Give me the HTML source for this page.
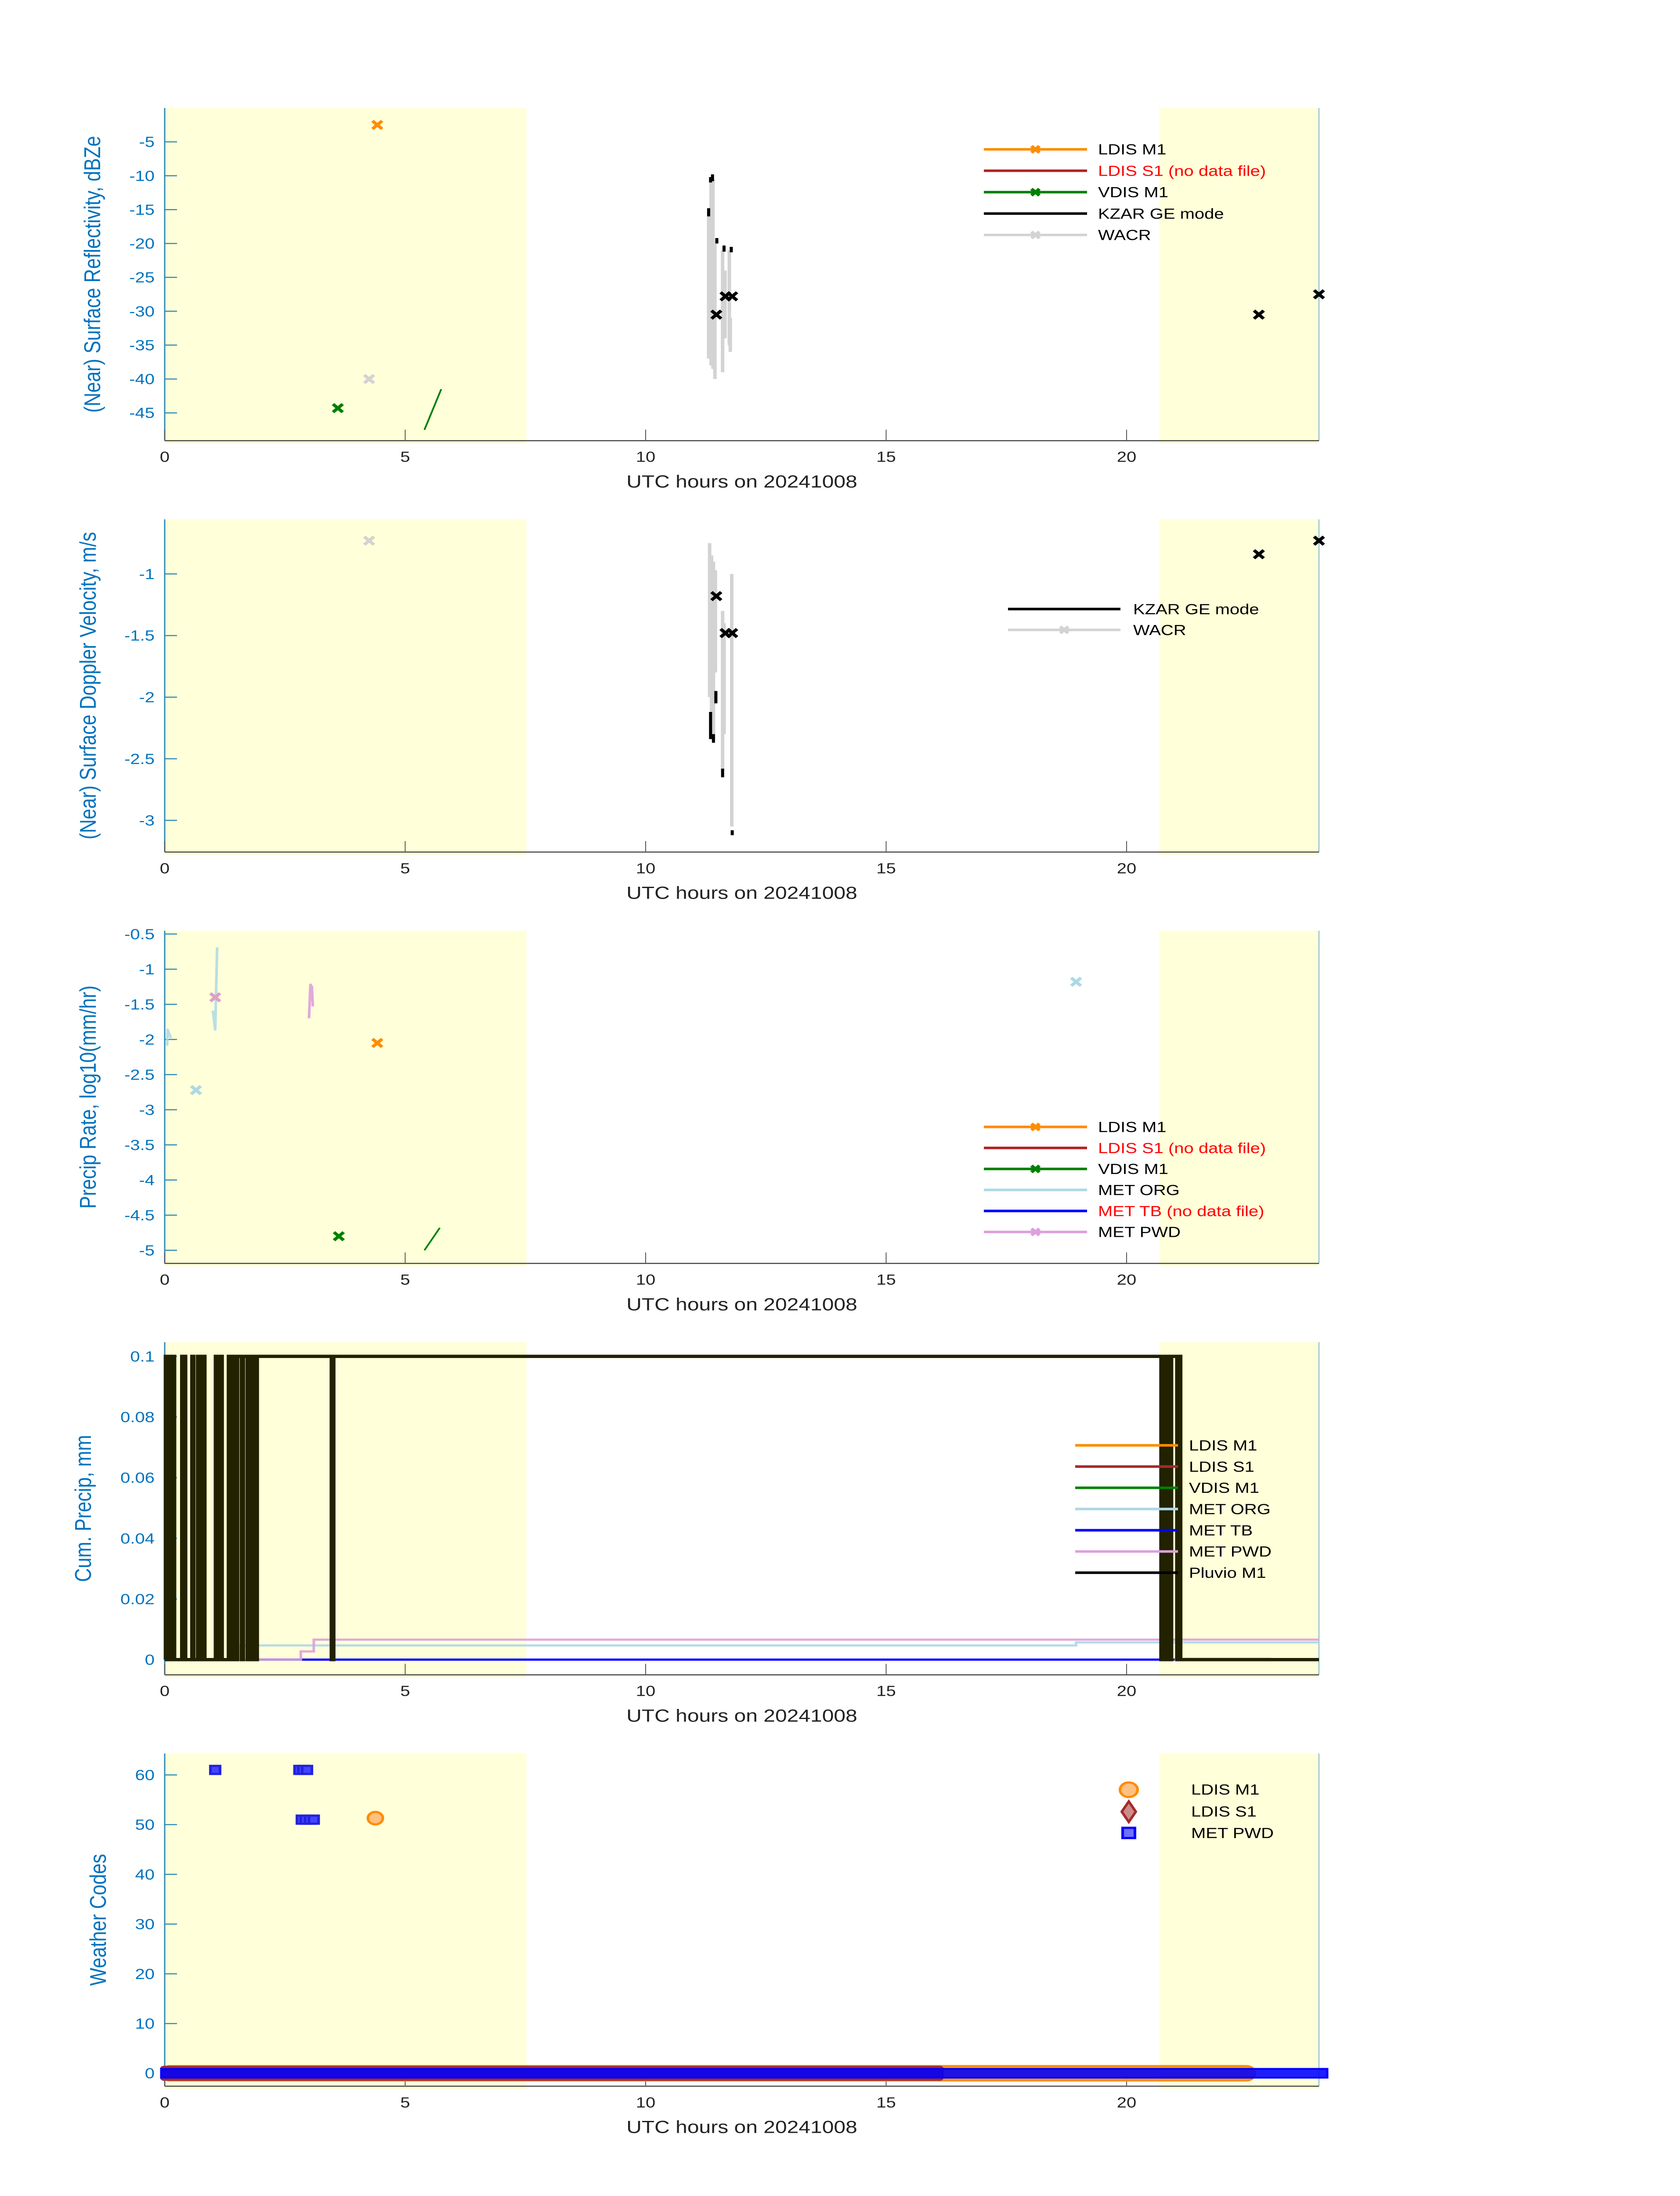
<!DOCTYPE html>
<html><head><meta charset="utf-8"><style>
html,body{margin:0;padding:0;background:#fff;width:100%;height:100%;overflow:hidden}
svg{display:block;font-family:"Liberation Sans",sans-serif;width:100vw;height:100vh}
</style></head><body>
<svg id="fig" viewBox="0 0 3825 6000" preserveAspectRatio="none" xmlns="http://www.w3.org/2000/svg"></svg>
<script>
// ---------- data ----------
const xTicks=[0,5,10,15,20];
const nightStart=[0,20.68], nightEnd=[7.52,24];
// panel 1 reflectivity
const p1Ticks=[-45,-40,-35,-30,-25,-20,-15,-10,-5];
const ldisM1ZT=[4.42], ldisM1ZV=[-2.5];
const vdisZT=[3.6], vdisZV=[-44.3];
const vdisLineT=[5.4,5.75], vdisLineV=[-47.5,-41.5];
const wacrZT=[4.25], wacrZV=[-40];
const wacrSegT=[11.31,11.36,11.4,11.44,11.6,11.65,11.74,11.76];
const wacrSegTop=[-15,-11,-10.5,-20,-21,-24,-21,-31];
const wacrSegBot=[-37,-38,-38.5,-40,-39,-34,-35,-36];
const kzarZT=[22.75,24.0,11.47,11.66,11.8], kzarZV=[-30.5,-27.5,-30.5,-27.8,-27.8];
const kzarSegT=[11.35,11.39,11.31,11.48,11.63,11.78], kzarSegTop=[-10.2,-9.8,-14.8,-19.2,-20.3,-20.5], kzarSegBot=[-11,-10.8,-16,-20,-21.2,-21.3];
// panel 2 velocity
const p2Ticks=[-3,-2.5,-2,-1.5,-1];
const wacrVT=[4.25], wacrVV=[-0.73];
const kzarVT=[22.75,24.0,11.47,11.66,11.8], kzarVV=[-0.84,-0.73,-1.18,-1.48,-1.48];
const wacrVSegT=[11.33,11.37,11.41,11.45,11.6,11.63,11.79], wacrVSegTop=[-0.75,-0.85,-0.9,-0.97,-1.3,-1.4,-1.0];
const wacrVSegBot=[-2.0,-2.3,-2.35,-1.8,-2.6,-2.3,-3.05];
const kzarVSegT=[11.35,11.41,11.46,11.6,11.8], kzarVSegTop=[-2.12,-2.3,-1.95,-2.58,-3.08], kzarVSegBot=[-2.34,-2.37,-2.05,-2.65,-3.12];
// panel 3 precip rate
const p3Ticks=[-5,-4.5,-4,-3.5,-3,-2.5,-2,-1.5,-1,-0.5];
const ldisRT=[4.42], ldisRV=[-2.05];
const vdisRT=[3.62], vdisRV=[-4.8];
const vdisRLineT=[5.4,5.72], vdisRLineV=[-5.0,-4.68];
const orgRT=[18.95,0.65], orgRV=[-1.18,-2.72];
const orgLineT=[1.09,1.05,1.0], orgLineV=[-0.69,-1.86,-1.59];
const orgLine2T=[0.05,0.06,0.13], orgLine2V=[-2.09,-1.86,-1.98];
const pwdRT=[1.05], pwdRV=[-1.4];
const pwdLineT=[3.0,3.03,3.06,3.08], pwdLineV=[-1.70,-1.22,-1.25,-1.53];
// panel 4 cumulative precip
const p4Ticks=[0,0.02,0.04,0.06,0.08,0.1];
const p4TickLabels=["0","0.02","0.04","0.06","0.08","0.1"];
const orgCT=[0,1.55,1.56,18.9,18.95,24], orgCV=[0,0,0.0047,0.0047,0.0057,0.0057];
const pwdCT=[0,2.78,2.83,3.0,3.1,24], pwdCV=[0,0,0.0027,0.0027,0.0066,0.0066];
const tbCT=[0,21], tbCV=[0,0];
const ldisCT=[21,23], ldisCV=[0.0003,0.0003];
const pluvioT=[0,0.02,0.04,0.06,0.1,0.17,0.2,0.36,0.38,0.4,0.43,0.57,0.6,0.69,0.72,0.8,0.83,1.06,1.09,1.11,1.14,1.16,1.19,1.33,1.36,1.4,1.43,1.46,1.49,1.51,1.6,1.63,1.72,1.75,1.8,1.83,1.88,1.92,3.47,3.51,20.72,20.75,20.78,20.8,20.84,20.87,20.9,20.93,21.05,21.08,21.12,24];
const pluvioV=[0,0.1,0,0.1,0,0.1,0,0.1,0,0.1,0,0.1,0,0.1,0,0.1,0,0.1,0,0.1,0,0.1,0,0.1,0,0.1,0,0.1,0,0.1,0,0.1,0,0.1,0,0.1,0,0.1,0,0.1,0,0.1,0,0.1,0,0.1,0,0.1,0,0.1,0,0];
// panel 5 weather codes
const p5Ticks=[0,10,20,30,40,50,60];
const ldisWRunStart=[0], ldisWRunEnd=[22.6], ldisWRunCode=[0];
const ldisS1RunStart=[0], ldisS1RunEnd=[16.1], ldisS1RunCode=[0];
const pwdRunStart=[0], pwdRunEnd=[24.1], pwdRunCode=[0];
const pwdWT=[1.05,2.8,2.88,2.96,2.85,2.93,3.02,3.1], pwdWV=[61,61,61,61,51,51,51,51];
const ldisWT=[4.38], ldisWV=[51.3];

// ---------- drawing ----------
const NS="http://www.w3.org/2000/svg";
const svg=document.getElementById('fig');
const X0=375,X1=3003,H=909;
const sx=h=>X0+h/24*(X1-X0);
function mk(tag,attrs,parent){const e=document.createElementNS(NS,tag);for(const k in attrs)e.setAttribute(k,attrs[k]);(parent||svg).appendChild(e);return e;}
function txt(s,x,y,attrs,parent){const e=mk('text',Object.assign({x:x,y:y,'font-size':40},attrs),parent);e.textContent=s;return e;}

function panel(idx,top,dom,ticks,tickLabels,ylabel,ylx){
  const g=mk('g',{});
  
  
  const bot=top+H;
  const sy=v=>bot-(v-dom[0])/(dom[1]-dom[0])*H;
  for(let i=0;i<nightStart.length;i++){
    const r=mk('rect',{x:sx(nightStart[i]),y:top,width:sx(nightEnd[i])-sx(nightStart[i]),height:H+8,fill:'#ffffd9'},g);
    
    
  }
  const ax=mk('g',{},g);
  
  
  mk('line',{x1:X0,y1:top,x2:X0,y2:bot,stroke:'#2e8bb8','stroke-width':3},ax);
  mk('line',{x1:X1,y1:top,x2:X1,y2:bot,stroke:'#7fb8d4','stroke-width':2},ax);
  mk('line',{x1:X0,y1:bot,x2:X1,y2:bot,stroke:'#444','stroke-width':3},ax);
  const xt=mk('g',{},g);
  
  
  xTicks.forEach(t=>{
    mk('line',{x1:sx(t),y1:bot,x2:sx(t),y2:bot-30,stroke:'#555','stroke-width':2},xt);
    txt(String(t),sx(t),bot+58,{'text-anchor':'middle',fill:'#222'},xt);
  });
  const yt=mk('g',{},g);
  
  
  ticks.forEach((t,i)=>{
    mk('line',{x1:X0,y1:sy(t),x2:X0+28,y2:sy(t),stroke:'#2e8bb8','stroke-width':3},yt);
    txt(tickLabels?tickLabels[i]:String(t),352,sy(t)+14,{'text-anchor':'end',fill:'#0072bd'},yt);
  });
  const xl=txt('UTC hours on 20241008',1689,bot+128,{'text-anchor':'middle','font-size':48,fill:'#222'},g);
  
  
  const yc=top+H/2;
  const yl=txt(ylabel,ylx,yc,{'text-anchor':'middle','font-size':52,fill:'#0072bd',transform:`rotate(-90 ${ylx} ${yc})`},g);
  
  
  return {g,sy,bot};
}
function cross(g,x,y,col,s){s=s||11;
  const p=mk('path',{d:`M${x-s} ${y-s}L${x+s} ${y+s}M${x-s} ${y+s}L${x+s} ${y-s}`,stroke:col,'stroke-width':8,fill:'none'},g);
  
  
}
function line(g,P,T,V,col,w,op,name){
  const d=T.map((t,i)=>(i?'L':'M')+sx(t)+' '+P.sy(V[i])).join('');
  const p=mk('path',{d:d,stroke:col,'stroke-width':w,fill:'none','stroke-opacity':op||1,'stroke-linejoin':'round'},g);
  
  
}
function stepLine(g,P,T,V,col,w,op,name){
  let d='M'+sx(T[0])+' '+P.sy(V[0]);
  for(let i=1;i<T.length;i++){d+='L'+sx(T[i])+' '+P.sy(V[i-1])+'L'+sx(T[i])+' '+P.sy(V[i]);}
  const p=mk('path',{d:d,stroke:col,'stroke-width':w,fill:'none','stroke-opacity':op||1},g);
  
  
}
function segs(g,P,T,A,B,col,w,name){
  T.forEach((t,i)=>{const l=mk('line',{x1:sx(t),y1:P.sy(A[i]),x2:sx(t),y2:P.sy(B[i]),stroke:col,'stroke-width':w},g);
    
    });
}
function legend(g,x1,x2,tx,y0,dy,items,fs){
  const lg=mk('g',{},g);
  
  
  items.forEach((it,i)=>{const y=y0+dy*i;
    const e=mk('g',{},lg);
    
    
    mk('line',{x1:x1,y1:y,x2:x2,y2:y,stroke:it[1],'stroke-width':7},e);
    if(it[2])cross(e,(x1+x2)/2,y,it[1],9);
    txt(it[0],tx,y+14,{fill:it[3]||'#000','font-size':fs||40},e);
  });
}
const tops=[295,1419,2543,3667,4791];
// Panel 1
let P=panel(1,tops[0],[-49.1,0],p1Ticks,null,'(Near) Surface Reflectivity, dBZe',228);
segs(P.g,P,wacrSegT,wacrSegTop,wacrSegBot,'#d3d3d3',8,'wacr-trace');
segs(P.g,P,kzarSegT,kzarSegTop,kzarSegBot,'#000',7,'kzar-trace');
line(P.g,P,vdisLineT,vdisLineV,'#008000',4,1,'vdis-line');
ldisM1ZT.forEach((t,i)=>cross(P.g,sx(t),P.sy(ldisM1ZV[i]),'#ff8c00'));
vdisZT.forEach((t,i)=>cross(P.g,sx(t),P.sy(vdisZV[i]),'#008000'));
wacrZT.forEach((t,i)=>cross(P.g,sx(t),P.sy(wacrZV[i]),'#d3d3d3'));
kzarZT.forEach((t,i)=>cross(P.g,sx(t),P.sy(kzarZV[i]),'#000'));
legend(P.g,2240,2475,2500,408,58.5,[['LDIS M1','#ff8c00',1],['LDIS S1 (no data file)','#b22222',0,'#ff0000'],['VDIS M1','#008000',1],['KZAR GE mode','#000',0],['WACR','#d3d3d3',1]]);
// Panel 2
P=panel(2,tops[1],[-3.257,-0.557],p2Ticks,null,'(Near) Surface Doppler Velocity, m/s',218);
segs(P.g,P,wacrVSegT,wacrVSegTop,wacrVSegBot,'#d3d3d3',8,'wacr-trace');
segs(P.g,P,kzarVSegT,kzarVSegTop,kzarVSegBot,'#000',7,'kzar-trace');
wacrVT.forEach((t,i)=>cross(P.g,sx(t),P.sy(wacrVV[i]),'#d3d3d3'));
kzarVT.forEach((t,i)=>cross(P.g,sx(t),P.sy(kzarVV[i]),'#000'));
legend(P.g,2295,2551,2580,1664,57,[['KZAR GE mode','#000',0],['WACR','#d3d3d3',1]]);
// Panel 3
P=panel(3,tops[2],[-5.187,-0.453],p3Ticks,null,'Precip Rate, log10(mm/hr)',218);
line(P.g,P,orgLineT,orgLineV,'#add8e6',6,0.85,'met-org-line');
line(P.g,P,orgLine2T,orgLine2V,'#add8e6',6,0.85,'met-org-line');
line(P.g,P,pwdLineT,pwdLineV,'#dda0dd',6,0.9,'met-pwd-line');
line(P.g,P,vdisRLineT,vdisRLineV,'#008000',4,1,'vdis-line');
ldisRT.forEach((t,i)=>cross(P.g,sx(t),P.sy(ldisRV[i]),'#ff8c00'));
vdisRT.forEach((t,i)=>cross(P.g,sx(t),P.sy(vdisRV[i]),'#008000'));
orgRT.forEach((t,i)=>cross(P.g,sx(t),P.sy(orgRV[i]),'#add8e6'));
pwdRT.forEach((t,i)=>cross(P.g,sx(t),P.sy(pwdRV[i]),'#dda0c8'));
legend(P.g,2240,2475,2500,3079,57.4,[['LDIS M1','#ff8c00',1],['LDIS S1 (no data file)','#b22222',0,'#ff0000'],['VDIS M1','#008000',1],['MET ORG','#add8e6',0],['MET TB (no data file)','#0000ff',0,'#ff0000'],['MET PWD','#dda0dd',1]]);
// Panel 4
P=panel(4,tops[3],[-0.005,0.1047],p4Ticks,p4TickLabels,'Cum. Precip, mm',207);
stepLine(P.g,P,tbCT,tbCV,'#0000ff',6,1,'met-tb-line');
stepLine(P.g,P,ldisCT,ldisCV,'#ff8c00',5,1,'ldis-m1-line');
stepLine(P.g,P,orgCT,orgCV,'#add8e6',6,0.9,'met-org-line');
stepLine(P.g,P,pwdCT,pwdCV,'#dda0dd',6,0.9,'met-pwd-line');
stepLine(P.g,P,pluvioT,pluvioV,'#222200',9,1,'pluvio-line');
legend(P.g,2448,2682,2707,3949,58,[['LDIS M1','#ff8c00'],['LDIS S1','#a52a2a'],['VDIS M1','#008000'],['MET ORG','#add8e6'],['MET TB','#0000ff'],['MET PWD','#dda0dd'],['Pluvio M1','#000']]);
// Panel 5
P=panel(5,tops[4],[-2.6,64.3],p5Ticks,null,'Weather Codes',241);
function runs(S,E,C,h,fill,stroke,rx,name){S.forEach((s,i)=>{const y=P.sy(C[i]);
  const r=mk('rect',{x:sx(s)-8,y:y-h/2,width:sx(E[i])-sx(s)+16,height:h,rx:rx,fill:fill,stroke:stroke,'stroke-width':5,'fill-opacity':0.88},P.g);
  
  });}
runs(ldisWRunStart,ldisWRunEnd,ldisWRunCode,40,'#ff8c00','#ff8c00',20,'ldis-m1-codes');
runs(ldisS1RunStart,ldisS1RunEnd,ldisS1RunCode,36,'#b22222','#a52a2a',6,'ldis-s1-codes');
runs(pwdRunStart,pwdRunEnd,pwdRunCode,24,'#0000ff','#0000ff',0,'met-pwd-codes');
pwdWT.forEach((t,i)=>{const r=mk('rect',{x:sx(t)-11,y:P.sy(pwdWV[i])-11,width:22,height:22,fill:'#4444ff',stroke:'#2222dd','stroke-width':6},P.g);
  
  });
ldisWT.forEach((t,i)=>{const c=mk('circle',{cx:sx(t),cy:P.sy(ldisWV[i]),r:17,fill:'#ffc080',stroke:'#ff8c00','stroke-width':6},P.g);
  
  });
const lg5=mk('g',{},P.g);


mk('circle',{cx:2570,cy:4890,r:20,fill:'#ffc080',stroke:'#ff8c00','stroke-width':6},lg5);
mk('path',{d:'M2570 4922L2586 4950L2570 4978L2554 4950Z',fill:'#cd8c8c',stroke:'#a52a2a','stroke-width':6},lg5);
mk('rect',{x:2556,y:4994,width:28,height:28,fill:'#7070ff',stroke:'#0000ff','stroke-width':6},lg5);
txt('LDIS M1',2712,4903,{},lg5);txt('LDIS S1',2712,4963,{},lg5);txt('MET PWD',2712,5022,{},lg5);
</script>
</body></html>
